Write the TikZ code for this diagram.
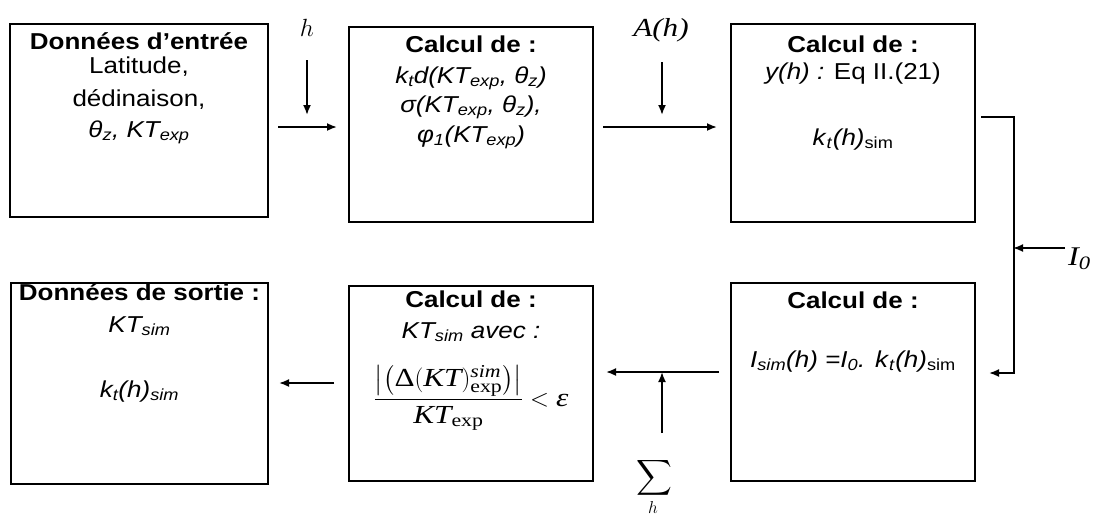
\documentclass[tikz,border=0pt]{standalone}
\usepackage{amsmath}
\usepackage{graphicx}
\usepackage{fontspec}
\setmainfont{Liberation Sans}[FakeStretch=1.13]
\newfontfamily\tms{Liberation Serif}[FakeStretch=1.2]
\usetikzlibrary{arrows.meta}
\newcommand{\sbs}[1]{\textsubscript{#1}}
\tikzset{
  box/.style={draw, line width=2pt, inner sep=0pt},
  txt/.style={anchor=base, inner sep=0pt, font=\fontsize{23}{27}\selectfont},
  hd/.style={anchor=base, inner sep=0pt, font=\fontsize{23}{27}\selectfont\bfseries},
  arr/.style={line width=1.8pt, -{Latex[length=10pt,width=8pt]}},
}
\begin{document}
\begin{tikzpicture}[x=1pt,y=-1pt]
\useasboundingbox (0,0) rectangle (1096,515);
% boxes
\node[box, minimum width=258pt, minimum height=193pt] (b1) at (139,120.5) {};
\node[box, minimum width=244pt, minimum height=195pt] (b2) at (471,124.5) {};
\node[box, minimum width=244pt, minimum height=198pt] (b3) at (853,123) {};
\node[box, minimum width=257pt, minimum height=201pt] (b4) at (139.5,383.5) {};
\node[box, minimum width=244pt, minimum height=195pt] (b5) at (471,383.5) {};
\node[box, minimum width=244pt, minimum height=198pt] (b6) at (853,382) {};
% box 1
\node[hd] (t11) at (139,49) {Données d’entrée};
\node[txt] (t12) at (139,73) {Latitude,};
\node[txt] (t13) at (139,106) {dédinaison,};
\node[txt] (t14) at (139,137) {\itshape θ\sbs{z}, KT\sbs{exp}};
% box 2
\node[hd] (t21) at (471,52) {Calcul de :};
\node[txt] (t22) at (471,83) {\itshape k\sbs{t}d(KT\sbs{exp}, θ\sbs{z})};
\node[txt] (t23) at (471,112) {\itshape σ(KT\sbs{exp}, θ\sbs{z}),};
\node[txt] (t24) at (471,142) {\itshape φ\sbs{1}(KT\sbs{exp})};
% box 3
\node[hd] (t31) at (853,52) {Calcul de :};
\node[txt] (t32) at (853,79) {\textit{y(h) :} Eq II.(21)};
\node[txt] (t33) at (853,145) {\textit{k}\sbs{\textit{t}}\textit{(h)}\sbs{sim}};
% box 6
\node[hd] (t61) at (853,308) {Calcul de :};
\node[txt] (t62) at (853,367) {\textit{I}\sbs{\textit{sim}}\textit{(h) =I}\sbs{\textit{0}}\textit{.} \textit{k}\sbs{\textit{t}}\textit{(h)}\sbs{sim}};
% box 4
\node[hd] (t41) at (139.5,300) {Données de sortie :};
\node[txt] (t42) at (139.5,332) {\itshape KT\sbs{sim}};
\node[txt] (t43) at (139.5,397) {\itshape k\sbs{t}(h)\sbs{sim}};
% box 5
\node[hd] (t51) at (471,307) {Calcul de :};
\node[txt] (t52) at (471,338) {\itshape KT\sbs{sim} avec :};
\node[inner sep=0pt, font=\tms\fontsize{26}{30}\selectfont] (t53) at (471,398)
  {$\dfrac{\left|\left(\text{Δ}(\textit{KT})^{\textit{sim}}_{\text{exp}}\right)\right|}{\textit{KT}_{\text{exp}}} < \textit{ε}$};
% input labels
\node[anchor=base, inner sep=0pt, font=\fontsize{33}{33}\selectfont] (h) at (307,36) {$h$};
\node[anchor=base, inner sep=0pt, font=\tms\fontsize{26}{26}\selectfont\itshape] (Ah) at (661,36) {A(h)};
\node[anchor=base west, inner sep=0pt, font=\tms\fontsize{27}{27}\selectfont\itshape] (I0) at (1068,265) {I\textsubscript{0}};
\node[inner sep=0pt, font=\fontsize{26}{26}\selectfont] (sum) at (654,478) {$\displaystyle\sum$};
\node[anchor=base, inner sep=0pt, font=\fontsize{17}{17}\selectfont] (sumh) at (653,513) {$h$};
\coordinate (jn) at (1013,248);
\coordinate (sj) at (662,372);
\coordinate (ss) at (662,433);
% connectors
\draw[arr] ([xshift=9pt,yshift=-6.5pt]b1.east) -- ([xshift=-11pt,yshift=-2.5pt]b2.west);
\draw[arr] ([yshift=-24pt]h.base) -- ([yshift=-79pt]h.base);
\draw[arr] ([xshift=1pt,yshift=-26pt]Ah.base) -- ([xshift=1pt,yshift=-79pt]Ah.base);
\draw[arr] ([xshift=9pt,yshift=-2.5pt]b2.east) -- ([xshift=-13pt,yshift=-4pt]b3.west);
\draw[arr] ([xshift=5pt,yshift=6pt]b3.east) -- ++(33,0) |- ([xshift=13pt,yshift=9pt]b6.east);
\draw[arr] ([xshift=-3pt,yshift=17pt]I0.base west) -- (jn);
\draw[arr] ([xshift=-11pt,yshift=10pt]b6.west) -- ([xshift=12pt,yshift=11.5pt]b5.east);
\draw[arr] (ss) -- (sj);
\draw[arr] ([xshift=-14pt,yshift=0.5pt]b5.west) -- ([xshift=10pt,yshift=0.5pt]b4.east);
\end{tikzpicture}
\end{document}
